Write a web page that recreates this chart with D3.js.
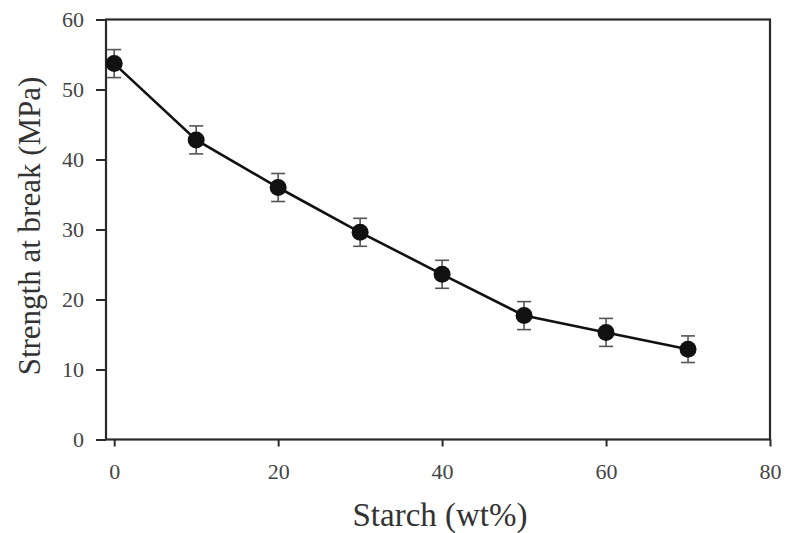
<!DOCTYPE html>
<html lang="en">
	<head>
		<meta charset="utf-8">
		<title>Strength at break vs starch</title>
		<script type="text/javascript" src="https://d3js.org/d3.v7.min.js"></script>
		<style type="text/css">
			body { margin: 0; background: #fff; }
			text { font-family: "Liberation Serif", "Times New Roman", serif; }
		</style>
	</head>
	<body>
		<script type="text/javascript">

			//Data
			var starch = [0, 10, 20, 30, 40, 50, 60, 70];
			var strength = [53.7, 42.8, 36.0, 29.6, 23.6, 17.7, 15.3, 12.9];
			var errors = [2.0, 2.0, 2.0, 2.0, 2.0, 2.0, 2.0, 1.9];
			var xTicks = [0, 20, 40, 60, 80];
			var yTicks = [0, 10, 20, 30, 40, 50, 60];

			//Width and height
			var w = 787;
			var h = 533;
			var margin = {top: 19.5, right: 17, bottom: 93.5, left: 106};

			var svg = d3.select("body")
						.append("svg")
						.attr("width", w)
						.attr("height", h);

			var x = d3.scaleLinear()
					  .domain([-1, 80])
					  .range([margin.left, w - margin.right]);

			var y = d3.scaleLinear()
					  .domain([0, 60])
					  .range([h - margin.bottom, margin.top]);

			var axisColor = "#2a2a2a";

			//Box
			svg.append("rect")
			   .attr("x", x(-1))
			   .attr("y", y(60))
			   .attr("width", x(80) - x(-1))
			   .attr("height", y(0) - y(60))
			   .attr("fill", "none")
			   .attr("stroke", axisColor)
			   .attr("stroke-width", 2.2);

			//Axes
			var xAxis = svg.append("g")
			   .attr("transform", "translate(0," + y(0) + ")")
			   .call(d3.axisBottom(x).tickValues(xTicks).tickSize(7).tickPadding(17));

			var yAxis = svg.append("g")
			   .attr("transform", "translate(" + x(-1) + ",0)")
			   .call(d3.axisLeft(y).tickValues(yTicks).tickSize(10).tickPadding(12));

			[xAxis, yAxis].forEach(function(g) {
				g.select(".domain").remove();
				g.selectAll(".tick line")
				 .attr("stroke", axisColor)
				 .attr("stroke-width", 2);
				g.selectAll(".tick text")
				 .attr("fill", "#444")
				 .attr("font-size", "22px");
			});

			//Line
			var line = d3.line()
						 .x(function(d, i) { return x(starch[i]); })
						 .y(function(d) { return y(d); });

			svg.append("path")
			   .datum(strength)
			   .attr("d", line)
			   .attr("fill", "none")
			   .attr("stroke", "#111")
			   .attr("stroke-width", 2.6);

			//Error bars
			var eb = svg.selectAll("g.err")
						.data(strength)
						.enter()
						.append("g")
						.attr("class", "err")
						.attr("stroke", "#555")
						.attr("stroke-width", 1.6);

			eb.append("line")
			  .attr("x1", function(d, i) { return x(starch[i]); })
			  .attr("x2", function(d, i) { return x(starch[i]); })
			  .attr("y1", function(d, i) { return y(d + errors[i]); })
			  .attr("y2", function(d, i) { return y(d - errors[i]); });

			[1, -1].forEach(function(s) {
				eb.append("line")
				  .attr("x1", function(d, i) { return x(starch[i]) - 7; })
				  .attr("x2", function(d, i) { return x(starch[i]) + 7; })
				  .attr("y1", function(d, i) { return y(d + s * errors[i]); })
				  .attr("y2", function(d, i) { return y(d + s * errors[i]); });
			});

			//Points
			svg.selectAll("circle")
			   .data(strength)
			   .enter()
			   .append("circle")
			   .attr("cx", function(d, i) { return x(starch[i]); })
			   .attr("cy", function(d) { return y(d); })
			   .attr("r", 8.5)
			   .attr("fill", "#111");

			//Titles
			svg.append("text")
			   .attr("x", 440)
			   .attr("y", 526)
			   .attr("text-anchor", "middle")
			   .attr("font-size", "33px")
			   .attr("fill", "#333")
			   .text("Starch (wt%)");

			svg.append("text")
			   .attr("transform", "translate(40," + 226 + ") rotate(-90)")
			   .attr("text-anchor", "middle")
			   .attr("font-size", "31px")
			   .attr("fill", "#333")
			   .text("Strength at break (MPa)");

		</script>
	</body>
</html>
